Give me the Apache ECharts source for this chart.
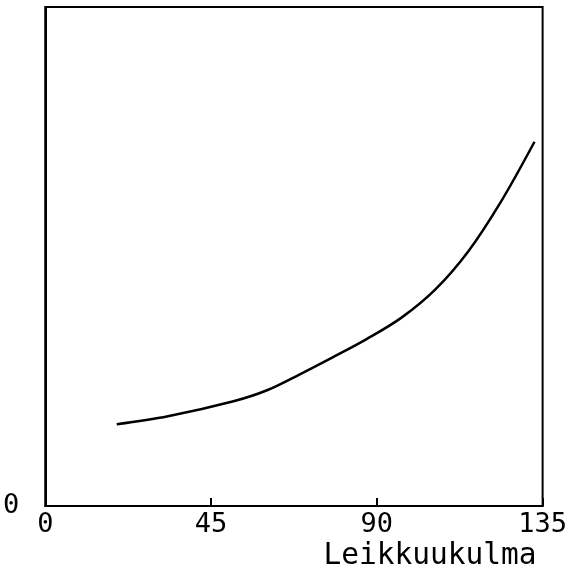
<!DOCTYPE html>
<html>
<head>
<meta charset="utf-8">
<script src="https://cdn.jsdelivr.net/npm/echarts@6/dist/echarts.min.js"></script>
<style>
  html, body { margin: 0; padding: 0; background: #fff; }
  #chart { width: 570px; height: 571px; }
</style>
</head>
<body>
<div id="chart"></div>
<script>
// Cutting angle (degrees) and the relative response along the curve
const angles = [19.4, 33.3, 51.1, 60.2, 69.1, 78.0, 87.1, 96.8, 105.9, 114.8, 123.7, 132.8];
const values = [16.4, 18.0, 21.0, 23.2, 26.4, 29.8, 33.4, 37.8, 43.4, 51.0, 61.0, 73.0];
const xTicks = [0, 45, 90, 135];
const xTitle = 'Leikkuukulma';

const FONT = 'DejaVu Sans Mono';

const chart = echarts.init(document.getElementById('chart'), null, { renderer: 'canvas' });
chart.setOption({
  animation: false,
  backgroundColor: '#fff',
  grid: {
    left: 43, right: 25, top: 7, bottom: 64,
    show: true, borderColor: '#000', borderWidth: 2, backgroundColor: 'transparent'
  },
  xAxis: {
    type: 'value',
    min: xTicks[0], max: xTicks[xTicks.length - 1], interval: 45,
    name: xTitle,
    nameLocation: 'end',
    nameGap: 0,
    nameTextStyle: {
      fontFamily: FONT, fontSize: 29.5, color: '#000',
      align: 'right', verticalAlign: 'top', padding: [35, 6, 0, 0]
    },
    axisLine: { show: true, lineStyle: { color: '#000', width: 2 } },
    axisTick: {
      show: true, inside: true, length: 8,
      lineStyle: { color: '#000', width: 2 }
    },
    axisLabel: {
      fontFamily: FONT, fontSize: 27, color: '#000', margin: 5,
      showMinLabel: true, showMaxLabel: true,
      formatter: v => xTicks.includes(v) ? String(v) : ''
    },
    splitLine: { show: false }
  },
  yAxis: {
    type: 'value',
    min: 0, max: 100, interval: 100,
    axisLine: { show: true, lineStyle: { color: '#000', width: 2 } },
    axisTick: { show: false },
    axisLabel: {
      fontFamily: FONT, fontSize: 27, color: '#000', margin: 26,
      formatter: v => v === 0 ? '0' : ''
    },
    splitLine: { show: false }
  },
  series: [{
    type: 'line',
    data: angles.map((a, i) => [a, values[i]]),
    smooth: 0.35,
    showSymbol: false,
    lineStyle: { color: '#000', width: 2.5 }
  }]
});
</script>
</body>
</html>
